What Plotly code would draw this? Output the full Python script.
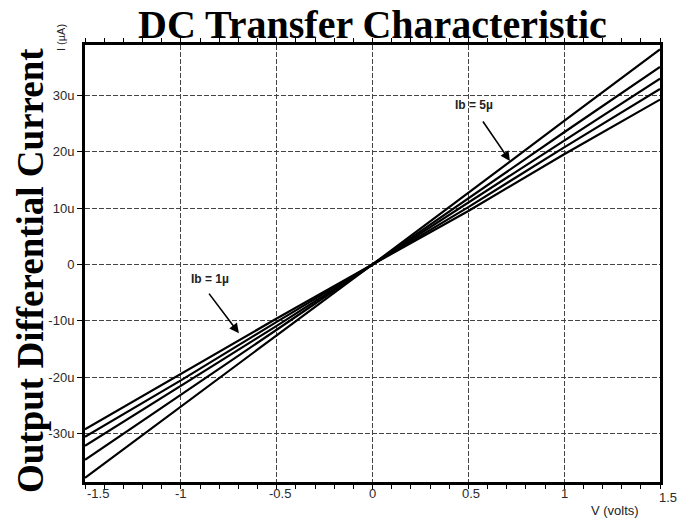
import plotly.graph_objects as go

# ---- data ----
v_points = [-1.5, -1.0, -0.5, 0.0, 0.5, 1.0, 1.5]
i_curve_1 = [-37.9, -25.2, -12.6, 0.0, 12.8, 25.5, 38.2]
i_curve_2 = [-34.7, -23.2, -11.6, 0.0, 11.8, 23.5, 35.1]
i_curve_3 = [-32.2, -21.6, -10.9, 0.0, 11.0, 22.0, 33.0]
i_curve_4 = [-30.6, -20.6, -10.2, 0.0, 10.2, 20.8, 31.2]
i_curve_5 = [-29.3, -19.5, -9.6, 0.0, 9.5, 19.6, 29.3]
curves = [i_curve_1, i_curve_2, i_curve_3, i_curve_4, i_curve_5]

x_tick_vals = [-1.5, -1.0, -0.5, 0.0, 0.5, 1.0, 1.5]
x_tick_text = ["-1.5", "-1", "-0.5", "0", "0.5", "1", "1.5"]
y_tick_vals = [-30, -20, -10, 0, 10, 20, 30]
y_tick_text = ["-30u", "-20u", "-10u", "0", "10u", "20u", "30u"]

title_text = "DC Transfer Characteristic"
y_title_text = "Output Differential Current"
x_unit_text = "V (volts)"
y_unit_text = "I (µA)"
label_hi = "Ib = 5µ"
label_lo = "Ib = 1µ"

# ---- layout geometry (pixels) ----
W, H = 689, 521
L, R, T, B = 85, 660, 45, 482
pw, ph = R - L, B - T


def px(xp):
    return (xp - L) / pw


def py(yp):
    return (B - yp) / ph


fig = go.Figure()
for c in curves:
    fig.add_trace(go.Scatter(x=v_points, y=c, mode="lines",
                             line=dict(color="black", width=2.2),
                             showlegend=False, hoverinfo="skip"))

grid_color = "#444444"
fig.update_layout(
    width=W, height=H,
    margin=dict(l=L, r=W - R, t=T, b=H - B, pad=0),
    paper_bgcolor="white", plot_bgcolor="white",
    font=dict(family="Liberation Sans, Arial", color="#222"),
    xaxis=dict(range=[-1.5, 1.5], tickvals=x_tick_vals, showticklabels=False,
               ticks="outside", ticklen=4, tickcolor="black", tickwidth=1,
               minor=dict(dtick=0.1, ticks="outside", ticklen=4, tickcolor="black",
                          showgrid=False),
               showgrid=True, gridcolor=grid_color, gridwidth=1, griddash="5px,2px",
               showline=True, linecolor="black", linewidth=3, mirror="ticks",
               zeroline=False),
    yaxis=dict(range=[-38.65, 39.0], tickvals=y_tick_vals, ticktext=y_tick_text,
               ticks="outside", ticklen=5, tickcolor="black", tickwidth=1,
               tickfont=dict(size=13, color="#2a2a2a"),
               showgrid=True, gridcolor=grid_color, gridwidth=1, griddash="5px,2px",
               showline=True, linecolor="black", linewidth=3, mirror=True,
               zeroline=False),
)

ann = []
# x tick labels (end labels sit slightly off-centre in the reference)
x_shift = {"-1.5": 13, "-0.5": 3, "0.5": 3, "1.5": 8}
for v, t in zip(x_tick_vals, x_tick_text):
    ann.append(dict(x=v, xref="x", y=py(493 if t != "1.5" else 497), yref="paper",
                    text=t, showarrow=False, xanchor="center", yanchor="middle",
                    xshift=x_shift.get(t, 0),
                    font=dict(size=13, color="#2a2a2a")))

ann.append(dict(x=px(372), y=py(24), xref="paper", yref="paper",
                text="<b>" + title_text + "</b>",
                showarrow=False, xanchor="center", yanchor="middle",
                font=dict(family="Liberation Serif", size=40, color="black")))
ann.append(dict(x=px(30), y=py(271), xref="paper", yref="paper",
                text="<b>" + y_title_text + "</b>",
                showarrow=False, xanchor="center", yanchor="middle", textangle=-90,
                font=dict(family="Liberation Serif", size=37, color="black")))
ann.append(dict(x=px(615), y=py(511), xref="paper", yref="paper", text=x_unit_text,
                showarrow=False, xanchor="center", yanchor="middle",
                font=dict(size=13, color="#222")))
ann.append(dict(x=px(61), y=py(38), xref="paper", yref="paper", text=y_unit_text,
                showarrow=False, xanchor="center", yanchor="middle", textangle=-90,
                font=dict(size=11, color="#222")))

# Ib labels with arrows
ann.append(dict(x=0.530, y=28.3, xref="x", yref="y", text="<b>" + label_hi + "</b>",
                showarrow=False, font=dict(size=12, color="#222")))
ann.append(dict(x=0.717, y=18.4, xref="x", yref="y", text="", showarrow=True,
                ax=-28, ay=-41, arrowhead=2, arrowsize=1.2, arrowwidth=1.6,
                arrowcolor="black"))
ann.append(dict(x=-0.848, y=-2.6, xref="x", yref="y", text="<b>" + label_lo + "</b>",
                showarrow=False, font=dict(size=12, color="#222")))
ann.append(dict(x=-0.697, y=-12.2, xref="x", yref="y", text="", showarrow=True,
                ax=-31, ay=-41, arrowhead=2, arrowsize=1.2, arrowwidth=1.6,
                arrowcolor="black"))

fig.update_layout(annotations=ann)

fig.write_html("out.html")
